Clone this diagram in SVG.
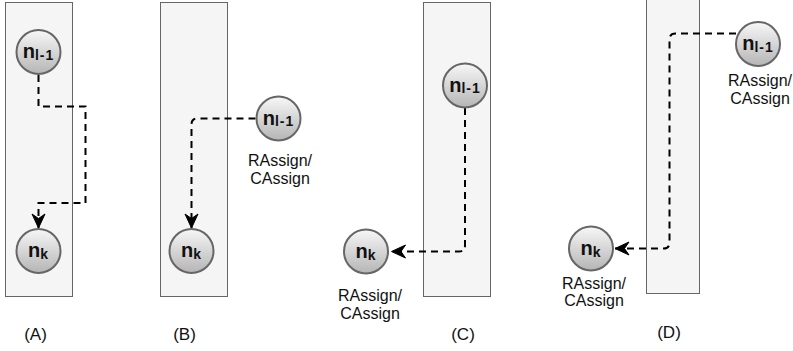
<svg xmlns="http://www.w3.org/2000/svg" width="793" height="351" viewBox="0 0 793 351">
  <defs>
    <linearGradient id="nodeFill" x1="0" y1="0" x2="0" y2="1">
      <stop offset="0" stop-color="#f7f7f7"/>
      <stop offset="1" stop-color="#b5b5b5"/>
    </linearGradient>
    <marker id="arrow" markerUnits="userSpaceOnUse" markerWidth="16" markerHeight="16" refX="14" refY="7" orient="auto" overflow="visible">
      <path d="M0,0.5 L14,7 L0,13.5 L4.5,7 Z" fill="#000" stroke="#000" stroke-width="1" stroke-linejoin="miter"/>
    </marker>
    <style>
      .lane { fill: #f5f5f5; stroke: #666666; stroke-width: 1; }
      .node { fill: url(#nodeFill); stroke: #666666; stroke-width: 2; }
      .nlabel { font-family: "Liberation Sans", Arial, sans-serif; font-weight: bold; font-size: 20px; fill: #111; text-anchor: middle; }
      .sub { font-size: 14px; letter-spacing: 1px; }
      .role { font-family: "Liberation Sans", Arial, sans-serif; font-size: 16px; fill: #111; text-anchor: middle; }
      .caption { font-family: "Liberation Sans", Arial, sans-serif; font-size: 17px; fill: #111; text-anchor: middle; }
      .edge { fill: none; stroke: #000; stroke-width: 2; stroke-dasharray: 7 5; marker-end: url(#arrow); }
    </style>
  </defs>

  <!-- lanes -->
  <g id="lanes">
    <rect id="laneA" class="lane" x="5.5" y="2.5" width="67" height="294"/>
    <rect id="laneB" class="lane" x="160.5" y="2.5" width="67" height="294"/>
    <rect id="laneC" class="lane" x="423.5" y="2.5" width="67" height="294"/>
    <rect id="laneD" class="lane" x="646.5" y="-10" width="53" height="303.5"/>
  </g>

  <!-- connectors -->
  <g id="connectors">
    <path id="edgeA" class="edge" d="M38.5,75 V106.5 H85.5 V203 H38.5 V228"/>
    <path id="edgeB" class="edge" d="M255.5,118.5 H197.5 Q191.5,118.5 191.5,124.5 V228"/>
    <path id="edgeC" class="edge" d="M465,108 V245.5 Q465,251.5 459,251.5 H391.5"/>
    <path id="edgeD" class="edge" d="M736,33.5 H675.5 Q669.5,33.5 669.5,39.5 V242.5 Q669.5,248.5 663.5,248.5 H615"/>
  </g>

  <!-- panel A -->
  <g id="nodeA1">
    <circle class="node" cx="38.5" cy="52" r="22"/>
    <text class="nlabel" x="38.5" y="58">n<tspan class="sub" dy="1.5">l-1</tspan></text>
  </g>
  <g id="nodeAk">
    <circle class="node" cx="38.5" cy="251" r="22"/>
    <text class="nlabel" x="38.5" y="257">n<tspan class="sub" dy="2">k</tspan></text>
  </g>

  <!-- panel B -->
  <g id="nodeB1">
    <circle class="node" cx="278.5" cy="118.5" r="22"/>
    <text class="nlabel" x="278.5" y="124.5">n<tspan class="sub" dy="1.5">l-1</tspan></text>
    <text class="role" x="280" y="166">RAssign/</text>
    <text class="role" x="280" y="184">CAssign</text>
  </g>
  <g id="nodeBk">
    <circle class="node" cx="191.5" cy="251" r="22"/>
    <text class="nlabel" x="191.5" y="257">n<tspan class="sub" dy="2">k</tspan></text>
  </g>

  <!-- panel C -->
  <g id="nodeC1">
    <circle class="node" cx="465" cy="85.5" r="22"/>
    <text class="nlabel" x="465" y="91.5">n<tspan class="sub" dy="1.5">l-1</tspan></text>
  </g>
  <g id="nodeCk">
    <circle class="node" cx="366" cy="251.5" r="22"/>
    <text class="nlabel" x="366" y="257.5">n<tspan class="sub" dy="2">k</tspan></text>
    <text class="role" x="370" y="300.5">RAssign/</text>
    <text class="role" x="370" y="318.5">CAssign</text>
  </g>

  <!-- panel D -->
  <g id="nodeD1">
    <circle class="node" cx="758" cy="44" r="22"/>
    <text class="nlabel" x="758" y="50">n<tspan class="sub" dy="1.5">l-1</tspan></text>
    <text class="role" x="760" y="86">RAssign/</text>
    <text class="role" x="760" y="104">CAssign</text>
  </g>
  <g id="nodeDk">
    <circle class="node" cx="591" cy="248.5" r="22"/>
    <text class="nlabel" x="591" y="254.5">n<tspan class="sub" dy="2">k</tspan></text>
    <text class="role" x="594" y="288.5">RAssign/</text>
    <text class="role" x="594" y="306">CAssign</text>
  </g>

  <!-- captions -->
  <g id="captions">
    <text class="caption" x="35.5" y="340">(A)</text>
    <text class="caption" x="184.5" y="340">(B)</text>
    <text class="caption" x="463" y="339.5">(C)</text>
    <text class="caption" x="669" y="338">(D)</text>
  </g>
</svg>
